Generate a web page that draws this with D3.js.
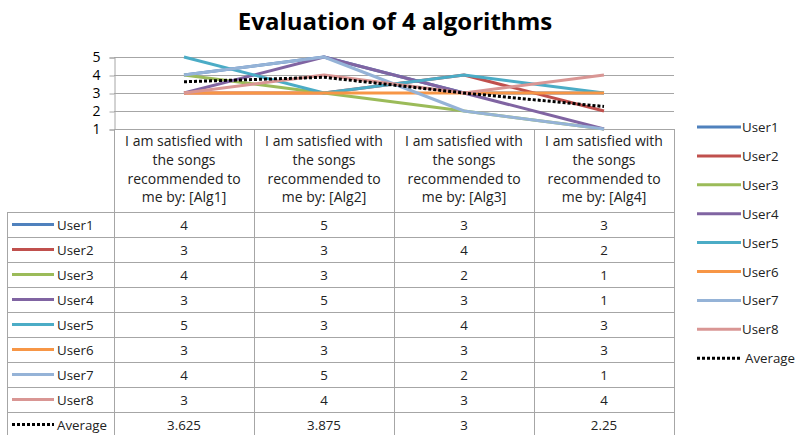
<!DOCTYPE html>
<html lang="en">
<head>
<meta charset="UTF-8" />
<title>Evaluation of 4 algorithms</title>
<style>
body { margin: 0; background: #fff; }
svg { display: block; font-family: "Open Sans", Lato, sans-serif; }
</style>
</head>
<body>
<svg id="chart" width="798" height="435"></svg>
<script src="https://cdn.jsdelivr.net/npm/d3@7/dist/d3.min.js"></script>
<script>
// data
const categories = ['Alg1', 'Alg2', 'Alg3', 'Alg4'];
const seriesNames = ['User1', 'User2', 'User3', 'User4', 'User5', 'User6', 'User7', 'User8', 'Average'];
const user1 = [4, 5, 3, 3];
const user2 = [3, 3, 4, 2];
const user3 = [4, 3, 2, 1];
const user4 = [3, 5, 3, 1];
const user5 = [5, 3, 4, 3];
const user6 = [3, 3, 3, 3];
const user7 = [4, 5, 2, 1];
const user8 = [3, 4, 3, 4];
const average = [3.625, 3.875, 3, 2.25];
const yTicks = [1, 2, 3, 4, 5];
const colors = ['#4F81BD', '#C0504D', '#9BBB59', '#8064A2', '#4BACC6', '#F79646', '#95B3D7', '#D99694', '#000000'];

const series = [user1, user2, user3, user4, user5, user6, user7, user8, average]
  .map((v, i) => ({ name: seriesNames[i], values: v, color: colors[i] }));

const svg = d3.select('#chart');
const grid = '#a6a6a6';
const plotLeft = 114, plotRight = 674, plotTop = 57, plotBottom = 129;
const tableLeft = 7, headerBottom = 212, tableBottom = 437;
const cellFont = '13.3px';

const x = d3.scaleBand().domain(categories).range([plotLeft, plotRight]);
const y = d3.scaleLinear().domain([1, 5]).range([plotBottom, plotTop]);
const row = d3.scaleBand().domain(seriesNames).range([headerBottom, tableBottom]);

// title
svg.append('text').attr('x', 395).attr('y', 30).attr('text-anchor', 'middle')
  .style('font-size', '24px').style('font-weight', 'bold').attr('fill', '#000')
  .text('Evaluation of 4 algorithms');

// gridlines
svg.append('g').selectAll('line').data(yTicks.slice(1)).join('line')
  .attr('x1', plotLeft).attr('x2', plotRight)
  .attr('y1', d => y(d) + 0.5).attr('y2', d => y(d) + 0.5)
  .attr('stroke', grid);

// y axis
const yAxis = svg.append('g').attr('transform', `translate(${plotLeft + 0.5},0.5)`)
  .call(d3.axisLeft(y).tickValues(yTicks).tickFormat(d3.format('d')).tickSize(5).tickPadding(9));
yAxis.select('.domain').attr('stroke', grid);
yAxis.selectAll('.tick line').attr('stroke', grid);
yAxis.selectAll('text').style('font-size', '14px').attr('fill', '#000').style('font-family', '"Open Sans", sans-serif');

// table lines
const tbl = svg.append('g').attr('stroke', grid).attr('fill', 'none');
tbl.append('line').attr('x1', plotLeft).attr('x2', plotRight).attr('y1', plotBottom + 0.5).attr('y2', plotBottom + 0.5);
categories.forEach(c => {
  tbl.append('line').attr('x1', x(c) + 0.5).attr('x2', x(c) + 0.5).attr('y1', plotBottom).attr('y2', tableBottom);
});
tbl.append('line').attr('x1', plotRight + 0.5).attr('x2', plotRight + 0.5).attr('y1', plotBottom).attr('y2', tableBottom);
tbl.append('line').attr('x1', tableLeft + 0.5).attr('x2', tableLeft + 0.5).attr('y1', headerBottom).attr('y2', tableBottom);
seriesNames.forEach(n => {
  tbl.append('line').attr('x1', tableLeft).attr('x2', plotRight).attr('y1', row(n) + 0.5).attr('y2', row(n) + 0.5);
});

// header text
const header = svg.append('g');
categories.forEach(c => {
  const lines = ['I am satisfied with', 'the songs', 'recommended to', 'me by: [' + c + ']'];
  header.append('text').attr('x', x(c) + x.bandwidth() / 2).attr('y', 146)
    .attr('text-anchor', 'middle').style('font-size', '14px').attr('fill', '#222')
    .selectAll('tspan').data(lines).join('tspan')
    .attr('x', x(c) + x.bandwidth() / 2).attr('dy', (d, i) => i ? 18.8 : 0).text(d => d);
});

// table cells
const fmt = v => String(v);
series.forEach(s => {
  const cy = row(s.name) + row.bandwidth() / 2;
  svg.append('line').attr('x1', 12).attr('x2', 54).attr('y1', cy).attr('y2', cy)
    .attr('stroke', s.color).attr('stroke-width', 3)
    .attr('stroke-dasharray', s.name === 'Average' ? '3,2' : null);
  svg.append('text').attr('x', 57).attr('y', cy + 5).style('font-size', cellFont).attr('fill', '#222').text(s.name);
  s.values.forEach((v, i) => {
    svg.append('text').attr('x', x(categories[i]) + x.bandwidth() / 2).attr('y', cy + 5)
      .attr('text-anchor', 'middle').style('font-size', cellFont).attr('fill', '#222').text(fmt(v));
  });
});

// lines
const line = d3.line().x((d, i) => x(categories[i]) + x.bandwidth() / 2).y(d => y(d));
svg.append('g').selectAll('path').data(series).join('path')
  .attr('d', d => line(d.values)).attr('fill', 'none')
  .attr('stroke', d => d.color).attr('stroke-width', 3)
  .attr('stroke-linejoin', 'round')
  .attr('stroke-dasharray', d => d.name === 'Average' ? '3,2' : null);

// legend
const leg = svg.append('g').selectAll('g').data(series).join('g')
  .attr('transform', (d, i) => `translate(697,${127 + i * 28.9})`);
leg.append('line').attr('x1', 0).attr('x2', 44).attr('stroke', d => d.color).attr('stroke-width', 3)
  .attr('stroke-dasharray', d => d.name === 'Average' ? '3,2' : null);
leg.append('text').attr('x', d => d.name === 'Average' ? 48 : 45).attr('y', 5).style('font-size', cellFont).attr('fill', '#222').text(d => d.name);
</script>
</body>
</html>
